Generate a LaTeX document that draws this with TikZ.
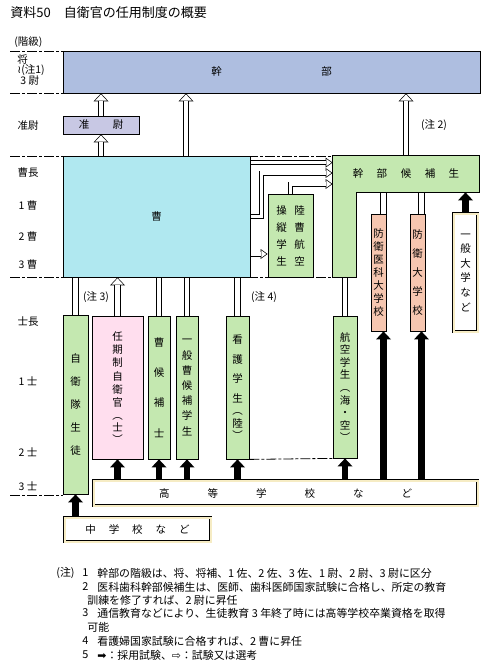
\documentclass[tikz,border=0pt]{standalone}
\usepackage{fontspec}
\setmainfont{Noto Sans CJK JP}
\newfontfamily\arrowfont{DejaVu Sans}
\usetikzlibrary{arrows.meta}
\usetikzlibrary{backgrounds}
\usetikzlibrary{positioning}

\definecolor{kanbucol}{RGB}{174,190,224}
\definecolor{junnicol}{RGB}{200,200,228}
\definecolor{soucol}{RGB}{176,232,240}
\definecolor{greencol}{RGB}{196,232,176}
\definecolor{pinkcol}{RGB}{255,222,238}
\definecolor{salmoncol}{RGB}{246,198,176}
\definecolor{creamcol}{RGB}{246,236,196}

\begin{document}
\begin{tikzpicture}[x=1pt, y=-1pt, line width=0.8pt]
    \tikzstyle{box}=[draw, line width=0.8pt, inner sep=0pt, font=\fontsize{10.5}{12}\selectfont]
    \tikzstyle{dbl}=[draw, line width=0.6pt, double=creamcol, double distance=2pt, fill=white,
                     inner sep=0pt, font=\fontsize{10.5}{12}\selectfont]
    \tikzstyle{rank}=[inner sep=0pt, font=\fontsize{10.5}{12}\selectfont]
    \tikzstyle{note}=[anchor=west, inner sep=0pt, font=\fontsize{10.9}{12}\selectfont]
    \tikzstyle{sep}=[line width=0.8pt, dash pattern=on 10pt off 2pt on 3pt off 2pt]
    \tikzstyle{band}=[double, double distance=4.8pt, line width=0.7pt]
    \tikzstyle{hollow}=[line width=6.2pt, -{Triangle[length=8pt,width=15pt,line width=0pt]},
        postaction={draw=white, line width=4.8pt, shorten >=1pt,
                    -{Triangle[length=6.3pt,width=11.8pt,line width=0pt]}}]
    \tikzstyle{hollowsmall}=[line width=5pt, -{Triangle[length=7pt,width=10pt,line width=0pt]},
        postaction={draw=white, line width=3.6pt, shorten >=1.2pt,
                    -{Triangle[length=5.1pt,width=7.3pt,line width=0pt]}}]
    \tikzstyle{fullarrow}=[line width=6.5pt, -{Triangle[length=8pt,width=15pt,line width=0pt]}]
    \tikzset{vt/.style={align=center, font=\fontsize{10.5}{#1}\selectfont}}
    \useasboundingbox (0,0) rectangle (493,666);

    \node[rank, anchor=west] (title) at (10,13) {\fontsize{13}{14}\selectfont 資料50　自衛官の任用制度の概要};

    % Rank names on the left
    \node[rank, anchor=west] (kaikyu) at (14,42) {(階級)};
    \node[rank, anchor=west] (sho) at (17,60) {将};
    \node[rank, anchor=west] (chu1) at (17,70) {{\arrowfont ≀}(注1)};
    \node[rank, anchor=west] (sani) at (20,81) {3 尉};
    \foreach \y/\t [count=\i] in {126/准尉, 173/曹長, 206/1 曹, 237/2 曹, 265/3 曹,
                                   322/士長, 381/1 士, 452/2 士, 486/3 士}
        \node[rank] (rank\i) at (28,\y) {\t};

    % Upper boxes
    \node[box, fill=kanbucol, minimum width=417pt, minimum height=42pt] (kanbu) at (271.5,72) {幹\hspace{99.5pt}部};
    \node[box, fill=junnicol, minimum width=76pt, minimum height=18pt] (junni) at (101,125) {准\hspace{23.5pt}尉};
    \node[box, fill=soucol, minimum width=187pt, minimum height=121pt] (sou) at (156.5,216.5) {曹};
    \node[inner sep=0pt, fill=greencol, minimum width=23pt, minimum height=97pt] (kankoleg) at (344.5,228.5) {};
    \node[inner sep=0pt, fill=greencol, minimum width=146pt, minimum height=36pt, font=\fontsize{10.5}{12}\selectfont]
        (kanko) at (406,174) {幹\hspace{13.5pt}部\hspace{13.5pt}候\hspace{13.5pt}補\hspace{13.5pt}生};
    \draw (kanko.north west) -- (kanko.north east) -- (kanko.south east) -- (kankoleg.east |- kanko.south)
        -- (kankoleg.south east) -- (kankoleg.south west) -- cycle;
    \node[box, fill=greencol, minimum width=45pt, minimum height=83pt, vt=17] (rikuso) at (290.5,235.5)
        {操\hspace{7.5pt}陸\\縦\hspace{7.5pt}曹\\学\hspace{7.5pt}航\\生\hspace{7.5pt}空};
    \node[box, fill=salmoncol, minimum width=15pt, minimum height=117pt, vt=13] (bouika) at (378.5,272.5) {防\\衛\\医\\科\\大\\学\\校};
    \node[box, fill=salmoncol, minimum width=15pt, minimum height=117pt, vt=19] (boudai) at (417.5,272.5) {防\\衛\\大\\学\\校};
    \node[dbl, minimum width=24pt, minimum height=118pt, vt=14.6] (ippan) at (465.5,272.5) {一\\般\\大\\学\\な\\ど};

    % Lower boxes
    \node[box, fill=greencol, minimum width=25pt, minimum height=179pt, vt=23] (seito) at (75.5,404.5) {自\\衛\\隊\\生\\徒};
    \node[box, fill=pinkcol, minimum width=51pt, minimum height=143pt, vt=13.3] (ninki) at (117.5,387.5)
        {任\\期\\制\\自\\衛\\官\\[-1pt]︵\\[-1pt]士\\[-1pt]︶};
    \node[box, fill=greencol, minimum width=22pt, minimum height=143pt, vt=30.3] (sokoho) at (159,387.5) {曹\\候\\補\\士};
    \node[box, fill=greencol, minimum width=22pt, minimum height=143pt, vt=15.2] (ippanso) at (187,387.5) {一\\般\\曹\\候\\補\\学\\生};
    \node[box, fill=greencol, minimum width=23pt, minimum height=143pt, vt=19.5] (kango) at (237.5,387.5)
        {看\\護\\学\\生\\[-7pt]︵\\[-7pt]陸\\[-7pt]︶};
    \node[box, fill=greencol, minimum width=24pt, minimum height=142pt, vt=12.6] (koku) at (345,387)
        {航\\空\\学\\生\\︵\\海\\・\\空\\︶};
    \node[dbl, minimum width=384pt, minimum height=25pt] (koko) at (285.5,493)
        {高\hspace{38pt}等\hspace{38pt}学\hspace{38pt}校\hspace{38pt}な\hspace{38pt}ど};
    \node[dbl, minimum width=146pt, minimum height=24pt] (chugaku) at (137.5,529.5)
        {中\hspace{13pt}学\hspace{13pt}校\hspace{13pt}な\hspace{13pt}ど};

    \node[rank] (chu2) at (434,125) {(注 2)};
    \node[rank] (chu3) at (96,297) {(注 3)};
    \node[rank] (chu4) at (264,297) {(注 4)};

    \begin{scope}[on background layer]
        % rank lines
        \foreach \y in {51,93,495}
            \draw[sep] (10,\y) -- (63,\y);
        \foreach \y in {156,277}
            \draw[sep] (10,\y) -- (356,\y);
        \draw[sep] (kango.south east) -- (koku.south west);
        % test or selection
        \draw[hollow] (junni.north) -- (junni.north |- kanbu.south);
        \draw[hollow] (junni.south |- sou.north) -- (junni.south);
        \draw[hollow] ([xshift=29.5pt]sou.north) -- ([xshift=29.5pt]sou.north |- kanbu.south);
        \draw[hollow] (kanko.north) -- (kanko.north |- kanbu.south);
        \draw[hollow] (ninki.north) -- (ninki.north |- sou.south);
        \draw[hollowsmall] ([yshift=-7pt]sou.north east) -- ([yshift=-7pt]sou.north east -| kanko.west);
        \draw[hollowsmall] (sou.east) -- ++(11,0) |- ([yshift=1pt]kanko.west);
        \draw[hollowsmall] (rikuso.north) |- ([yshift=-10pt]kanko.west);
        \draw[hollowsmall] ([yshift=-37.5pt]sou.east) -- ([yshift=-37.5pt]sou.east -| rikuso.west);
        \foreach \n in {seito, sokoho, ippanso, kango}
            \draw[band] (\n.north) -- (\n.north |- sou.south);
        \draw[band] (koku.north) -- (koku.north |- kankoleg.south);
        \draw[band] ([xshift=5pt]bouika.north) -- ([xshift=5pt]bouika.north |- kanko.south);
        \draw[band] ([xshift=4pt]boudai.north) -- ([xshift=4pt]boudai.north |- kanko.south);
        % entrance examination
        \foreach \n in {ninki, sokoho, ippanso, kango, koku}
            \draw[fullarrow] (\n.south |- koko.north) -- (\n.south);
        \draw[fullarrow] ([xshift=5pt]bouika.south |- koko.north) -- ([xshift=5pt]bouika.south);
        \draw[fullarrow] ([xshift=4pt]boudai.south |- koko.north) -- ([xshift=4pt]boudai.south);
        \draw[fullarrow] (ippan.north) -- (ippan.north |- kanko.south);
        \draw[fullarrow] (seito.south |- chugaku.north) -- (seito.south);
    \end{scope}

    % Notes
    \node[note] (nh) at (56,573) {(注)};
    \foreach \y/\n in {573/1, 587/2, 613/3, 641/4, 655/5}
        \node[note] (num\n) at (82,\y) {\n};
    \node[note] (t1) at (97,573) {幹部の階級は、将、将補、1 佐、2 佐、3 佐、1 尉、2 尉、3 尉に区分};
    \node[note] (t2) at (97,587) {医科歯科幹部候補生は、医師、歯科医師国家試験に合格し、所定の教育};
    \node[note] (t2b) at (87,600) {訓練を修了すれば、2 尉に昇任};
    \node[note] (t3) at (97,613) {通信教育などにより、生徒教育 3 年終了時には高等学校卒業資格を取得};
    \node[note] (t3b) at (87,627) {可能};
    \node[note] (t4) at (97,641) {看護婦国家試験に合格すれば、2 曹に昇任};
    \node[note] (t5) at (97,655) {{\arrowfont ➡}：採用試験、{\arrowfont ⇨}：試験又は選考};
\end{tikzpicture}
\end{document}
